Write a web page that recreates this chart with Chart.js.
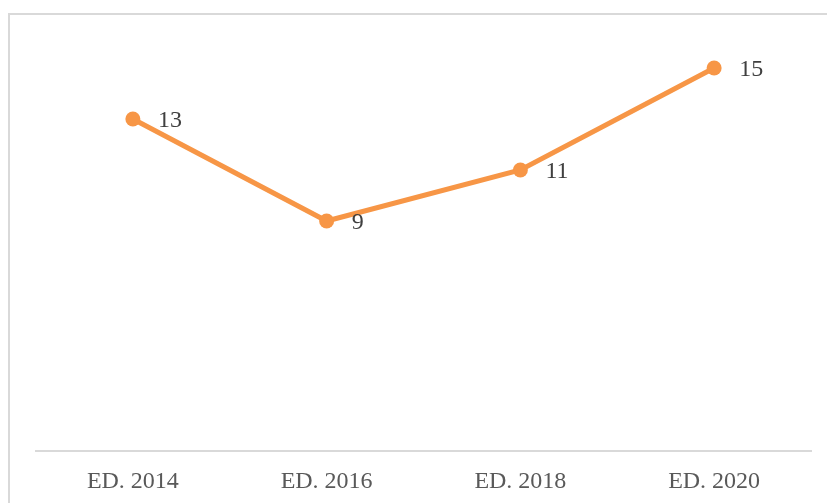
<!DOCTYPE html>
<html>
<head>
<meta charset="utf-8">
<script src="https://cdn.jsdelivr.net/npm/chart.js@4/dist/chart.umd.min.js"></script>
<style>
    html, body { margin: 0; padding: 0; background: #fff; overflow: hidden; }
    #frame {
        position: absolute; left: 8px; top: 13px; width: 840px; height: 520px;
        border: 2px solid #d9d9d9; box-sizing: border-box;
    }
    #wrap { position: absolute; left: 0; top: 0; width: 827px; height: 503px; }
</style>
</head>
<body>
<div id="frame"></div>
<div id="wrap"><canvas id="myChart" width="827" height="503"></canvas></div>
<script>
const categories = ['ED. 2014', 'ED. 2016', 'ED. 2018', 'ED. 2020'];
const values = [13, 9, 11, 15];

const LINE_COLOR = '#F79646';
const FONT_FAMILY = '"Liberation Serif", "DejaVu Serif", serif';

// draws the value to the right of each point
const valueLabels = {
    id: 'valueLabels',
    afterDatasetsDraw(chart) {
        const ctx = chart.ctx;
        const meta = chart.getDatasetMeta(0);
        ctx.save();
        ctx.font = '24px ' + FONT_FAMILY;
        ctx.fillStyle = '#404040';
        ctx.textAlign = 'left';
        ctx.textBaseline = 'middle';
        meta.data.forEach((pt, i) => {
            ctx.fillText(String(values[i]), pt.x + 25, pt.y + 2);
        });
        ctx.restore();
    }
};

const ctx = document.getElementById('myChart').getContext('2d');
new Chart(ctx, {
    type: 'line',
    data: {
        labels: categories,
        datasets: [{
            data: values,
            borderColor: LINE_COLOR,
            backgroundColor: LINE_COLOR,
            borderWidth: 5,
            pointRadius: 7.5,
            pointBorderWidth: 0,
            pointBackgroundColor: LINE_COLOR,
            tension: 0,
            clip: false
        }]
    },
    options: {
        animation: false,
        responsive: false,
        devicePixelRatio: 1,
        layout: { padding: { left: 36, right: 16, top: 42.5, bottom: 0 } },
        plugins: { legend: { display: false }, tooltip: { enabled: false } },
        scales: {
            x: {
                offset: true,
                grid: { display: false, drawTicks: false },
                border: { display: true, color: '#d9d9d9', width: 2 },
                ticks: {
                    color: '#595959',
                    padding: 17,
                    font: { family: FONT_FAMILY, size: 24 }
                },
                afterFit: s => { s.height = 52.5; }
            },
            y: {
                display: false,
                min: 0,
                max: 16
            }
        }
    },
    plugins: [valueLabels]
});
</script>
</body>
</html>
